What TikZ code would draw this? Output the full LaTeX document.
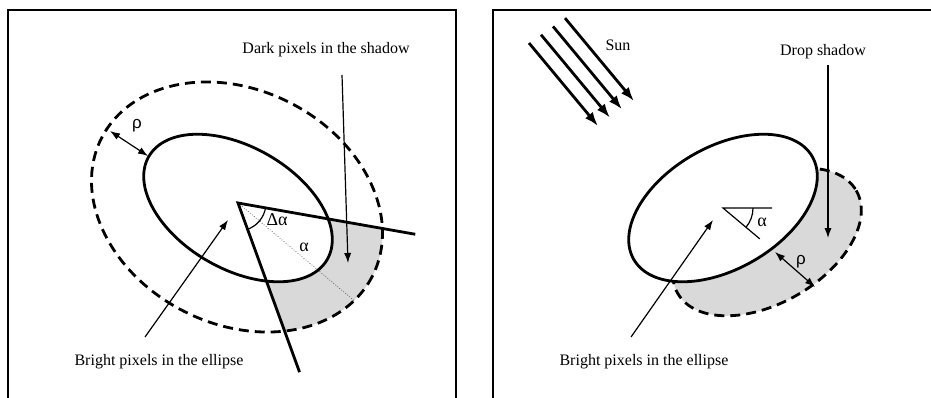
\documentclass[tikz,border=0pt]{standalone}
\usepackage{fontspec}
\setmainfont{Liberation Serif}
\newfontfamily\rhofont{Liberation Sans}
\usetikzlibrary{arrows.meta}
\tikzset{
  frame/.style={draw=black, line width=1pt},
  outline/.style={draw=black, line width=1.4pt},
  dashline/.style={draw=black, line width=1.4pt, dash pattern=on 5pt off 3pt},
  shadearea/.style={fill=gray!30},
  lbl/.style={font=\fontsize{8}{9.6}\selectfont, inner sep=1pt},
  greek/.style={font=\fontsize{9}{10}\selectfont, inner sep=0pt},
  rho/.style={font=\rhofont\fontsize{8.5}{10}\selectfont, inner sep=0pt},
  arr/.style={-{Latex[length=5pt,width=3.6pt]}, line width=0.6pt},
  darr/.style={{Latex[length=5pt,width=3.6pt]}-{Latex[length=5pt,width=3.6pt]}, line width=0.6pt},
  sunray/.style={-{Latex[length=7pt,width=5pt]}, line width=1.4pt}
}
\begin{document}
\begin{tikzpicture}[x=0.5pt, y=-0.5pt]
  \useasboundingbox (0,0) rectangle (931,397);
  % frames, open at the bottom
  \draw[frame] (8,420) -- (8,10) -- (456,10) -- (456,420);
  \draw[frame] (493,420) -- (493,10) -- (960,10) -- (960,420);

  % left: ellipse with ring of width rho
  \coordinate (apex) at (238,203);
  \coordinate (cl) at (238,208);
  \coordinate (ring) at (237,207);
  \begin{scope}
    \clip (apex) -- +(10:700) -- +(70:700) -- cycle;
    \fill[shadearea, even odd rule] (ring) circle [x radius=152, y radius=117, rotate=-27]
      (cl) circle [x radius=103, y radius=61, rotate=-30];
  \end{scope}
  \draw[dashline] (ring) circle [x radius=152, y radius=117, rotate=-27];
  \draw[outline] (cl) circle [x radius=103, y radius=61, rotate=-30];
  \path (apex) ++(10:180) coordinate (rayA);
  \path (apex) ++(70:180) coordinate (rayB);
  \path (apex) ++(40:152) coordinate (bis);
  \draw[outline] (rayA) -- (apex) -- (rayB);
  \draw[line width=0.3pt, densely dotted] (apex) -- (bis);
  \draw[line width=0.6pt] ([shift={(10:28)}]apex) arc [start angle=10, end angle=70, radius=28];
  \node[greek] (dalpha) at (277,220) {Δα};
  \node[greek] (alphal) at (304,247) {α};

  \coordinate (rhoout) at (110,131);
  \coordinate (rhoin) at (148,156);
  \draw[darr] (rhoout) -- (rhoin);
  \node[rho] (rhol) at (137,126) {ρ};

  \node[lbl] (dark) at (326,50) {Dark pixels in the shadow};
  \coordinate (darkfrom) at (342,75);
  \coordinate (darkto) at (348,263);
  \draw[arr] (darkfrom) -- (darkto);

  \node[lbl] (brightl) at (159,362) {Bright pixels in the ellipse};
  \coordinate (brightlfrom) at (145,337);
  \coordinate (brightlto) at (228,220);
  \draw[arr] (brightlfrom) -- (brightlto);

  % right: drop shadow
  \coordinate (cr) at (723,208);
  \coordinate (cs) at (767,242);
  \fill[shadearea] (cs) circle [x radius=103, y radius=61, rotate=30];
  \draw[dashline] (cs) circle [x radius=103, y radius=61, rotate=30];
  \fill[white] (cr) circle [x radius=103, y radius=61, rotate=30];
  \draw[outline] (cr) circle [x radius=103, y radius=61, rotate=30];

  \coordinate (horiz) at (772,208);
  \path (cr) ++(40:48) coordinate (slant);
  \draw[line width=0.6pt] (horiz) -- (cr) -- (slant);
  \draw[line width=0.6pt] ([shift={(0:30)}]cr) arc [start angle=0, end angle=40, radius=30];
  \node[greek] (alphar) at (762,222) {α};

  \coordinate (rhorin) at (775,252);
  \coordinate (rhorout) at (815,287);
  \draw[darr] (rhorin) -- (rhorout);
  \node[rho] (rhor) at (801,262) {ρ};

  \node[lbl] (drop) at (823,52) {Drop shadow};
  \coordinate (dropfrom) at (828,65);
  \coordinate (dropto) at (828,238);
  \draw[arr] (dropfrom) -- (dropto);

  \node[lbl] (sun) at (618,45) {Sun};
  \foreach \i in {0,...,3}
    \draw[sunray] (529+12*\i, 43-8.3*\i) -- ++(69,83);

  \node[lbl] (brightr) at (644,362) {Bright pixels in the ellipse};
  \coordinate (brightrfrom) at (631,337);
  \coordinate (brightrto) at (713,220);
  \draw[arr] (brightrfrom) -- (brightrto);
\end{tikzpicture}
\end{document}
